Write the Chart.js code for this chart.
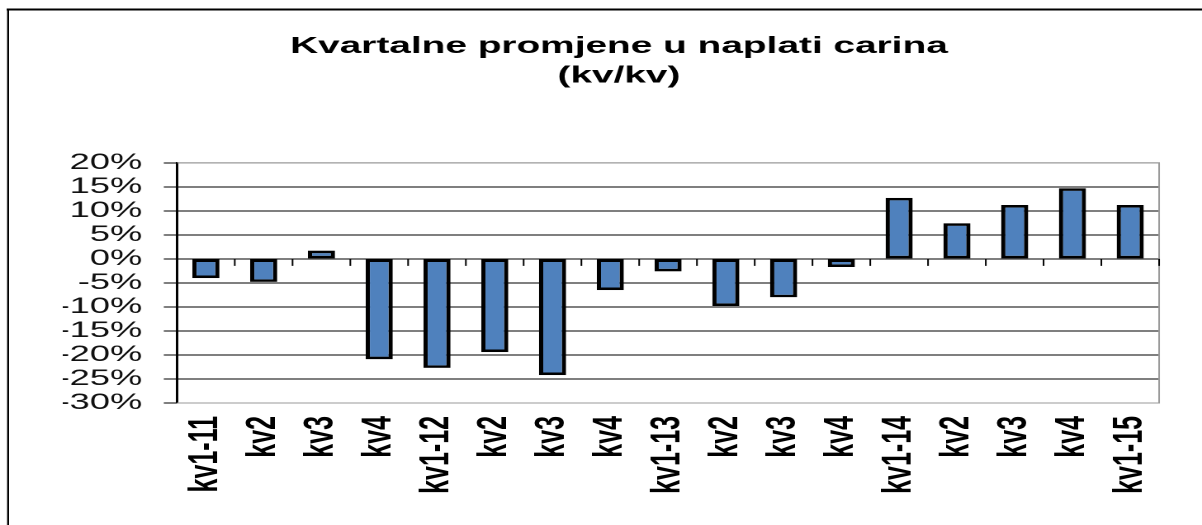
<!DOCTYPE html>
<html>
<head>
<meta charset="utf-8">
<script src="https://cdn.jsdelivr.net/npm/chart.js@4"></script>
<style>
  html, body { margin: 0; padding: 0; background: #fff; overflow: hidden; }
  /* the reference is stretched horizontally, so draw narrow and stretch */
  #wrap { width: 728px; height: 525px; transform: scaleX(1.6511); transform-origin: 0 0; }
</style>
</head>
<body>
<div id="wrap"><canvas id="chart" width="728" height="525"></canvas></div>
<script>
// quarters and q/q change in customs collection (%)
const categories = ['kv1-11', 'kv2', 'kv3', 'kv4', 'kv1-12', 'kv2', 'kv3', 'kv4',
  'kv1-13', 'kv2', 'kv3', 'kv4', 'kv1-14', 'kv2', 'kv3', 'kv4', 'kv1-15'];
const changes = [-4.0, -4.8, 1.7, -20.9, -22.7, -19.4, -24.2, -6.5,
  -2.6, -9.8, -8.0, -1.7, 12.7, 7.4, 11.2, 14.7, 11.2];
const yMin = -30;
const yMax = 20;
const yStep = 5;

const FONT = "'Liberation Sans', Arial, sans-serif";

// outer frame (only left and top edges are visible in the picture)
const framePlugin = {
  id: 'frame',
  beforeDraw(chart) {
    const ctx = chart.ctx;
    ctx.save();
    ctx.fillStyle = '#fff';
    ctx.fillRect(0, 0, chart.width, chart.height);
    ctx.strokeStyle = '#000';
    ctx.lineWidth = 1.2;
    ctx.beginPath();
    ctx.moveTo(4.9, chart.height);
    ctx.lineTo(4.9, 9.5);
    ctx.stroke();
    ctx.lineWidth = 2;
    ctx.beginPath();
    ctx.moveTo(4, 9.5);
    ctx.lineTo(chart.width, 9.5);
    ctx.stroke();
    ctx.restore();
  }
};

// grey plot border + category ticks hanging under the zero line
const plotBoxPlugin = {
  id: 'plotBox',
  beforeDatasetsDraw(chart) {
    const { ctx, chartArea: a, scales } = chart;
    ctx.save();
    ctx.strokeStyle = '#9a9a9a';
    ctx.lineWidth = 1;
    ctx.beginPath();
    ctx.moveTo(a.left, a.top);
    ctx.lineTo(a.right, a.top);
    ctx.lineTo(a.right, a.bottom);
    ctx.lineTo(a.left, a.bottom);
    ctx.stroke();

    const y0 = scales.y.getPixelForValue(0);
    ctx.strokeStyle = '#000';
    ctx.lineWidth = 1;
    ctx.beginPath();
    for (let i = 1; i <= categories.length; i++) {
      const x = scales.x.getPixelForValue(i - 0.5);
      ctx.moveTo(x, y0);
      ctx.lineTo(x, y0 + 7);
    }
    ctx.stroke();
    ctx.restore();
  }
};

new Chart(document.getElementById('chart'), {
  type: 'bar',
  data: {
    labels: categories,
    datasets: [{
      data: changes,
      backgroundColor: '#4f81bd',
      borderColor: '#000',
      borderWidth: 2.6,
      borderSkipped: false,
      barPercentage: 0.47,
      categoryPercentage: 1
    }]
  },
  options: {
    responsive: false,
    animation: false,
    devicePixelRatio: 2,
    layout: { padding: { left: 38, right: 16.3, top: 0, bottom: 0 } },
    plugins: {
      legend: { display: false },
      tooltip: { enabled: false },
      title: {
        display: true,
        text: ['Kvartalne promjene u naplati carina', '(kv/kv)'],
        color: '#000',
        font: { family: FONT, size: 23.5, weight: 'bold', lineHeight: 1.25 },
        padding: { top: 32, bottom: 72 }
      }
    },
    scales: {
      x: {
        grid: { display: false, drawTicks: false },
        border: { display: false },
        ticks: {
          color: '#000',
          font: { family: FONT, size: 25, weight: 'bold' },
          minRotation: 90,
          maxRotation: 90,
          autoSkip: false,
          padding: 13
        },
        afterFit(scale) { scale.height = 122; }
      },
      y: {
        min: yMin,
        max: yMax,
        ticks: {
          stepSize: yStep,
          autoSkip: false,
          color: '#111',
          font: { family: FONT, size: 22, lineHeight: 1 },
          padding: 13,
          callback: v => v + '%'
        },
        grid: {
          color: ctx => (ctx.tick && (ctx.tick.value === yMax || ctx.tick.value === yMin)) ? '#9a9a9a' : '#000',
          tickColor: '#000',
          lineWidth: 1,
          tickLength: 8
        },
        border: { color: '#000', width: 1.5 },
        afterFit(scale) { scale.width = 69.2; }
      }
    }
  },
  plugins: [framePlugin, plotBoxPlugin]
});
</script>
</body>
</html>
